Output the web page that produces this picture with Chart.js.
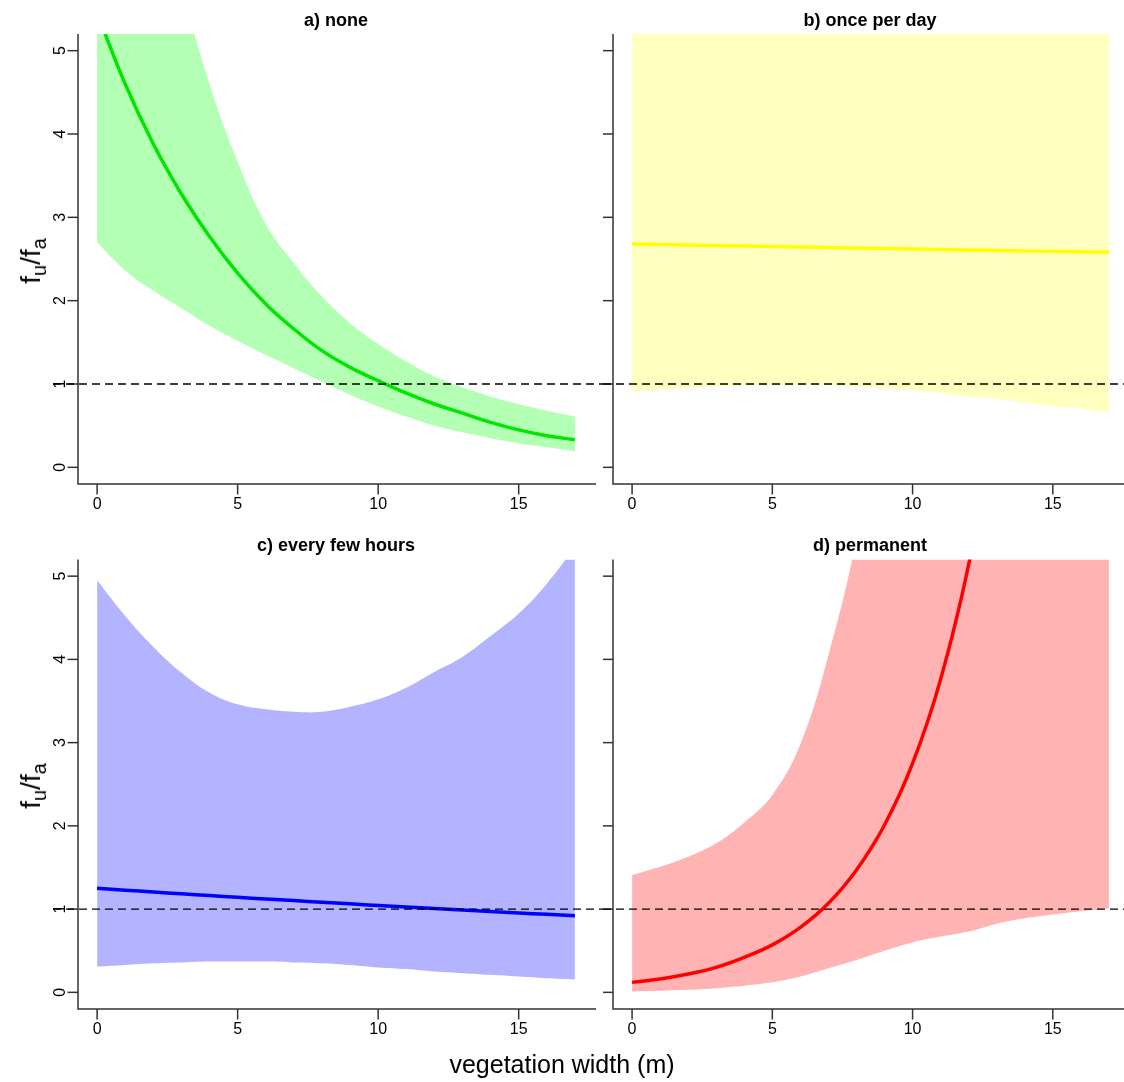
<!DOCTYPE html>
<html>
<head>
<meta charset="utf-8">
<script src="https://cdn.jsdelivr.net/npm/chart.js@4.4.1/dist/chart.umd.min.js"></script>
<style>
html,body{margin:0;padding:0;background:#fff;overflow:hidden;width:1124px;height:1082px;}
#fig{position:relative;width:1124px;height:1082px;overflow:hidden;font-family:"Liberation Sans",Arial,sans-serif;color:#000;}
canvas{position:absolute;}
.title{position:absolute;font-weight:bold;font-size:18px;line-height:1;transform:translate(-50%,-50%);white-space:nowrap;}
.ylab{position:absolute;font-size:28px;line-height:1;transform:translate(-50%,-50%) rotate(-90deg);white-space:nowrap;}
.ylab sub{font-size:20px;vertical-align:-6px;line-height:0;}
.xlab{position:absolute;font-size:25px;line-height:1;transform:translate(-50%,-50%);white-space:nowrap;}
</style>
</head>
<body>
<div id="fig">
  <canvas id="c0" width="603" height="530" style="left:0;top:0"></canvas>
  <canvas id="c1" width="530" height="530" style="left:603px;top:0"></canvas>
  <canvas id="c2" width="603" height="552" style="left:0;top:530px"></canvas>
  <canvas id="c3" width="530" height="552" style="left:603px;top:530px"></canvas>
  <div class="title" style="left:336px;top:19.5px">a) none</div>
  <div class="title" style="left:870px;top:19.5px">b) once per day</div>
  <div class="title" style="left:336px;top:545px">c) every few hours</div>
  <div class="title" style="left:870px;top:545px">d) permanent</div>
  <div class="ylab" style="left:31px;top:261px">f<sub>u</sub>/f<sub>a</sub></div>
  <div class="ylab" style="left:31px;top:786px">f<sub>u</sub>/f<sub>a</sub></div>
  <div class="xlab" style="left:562px;top:1064px">vegetation width (m)</div>
</div>
<script>
// ---- data ----
const widths = [0,1,2,3,4,5,6,7,8,9,10,11,12,13,14,15,16,17];
const xTicks = [0,5,10,15];
const yTicks = [0,1,2,3,4,5];
const refLine = 1;

const noneMean  = [5.45,4.60,3.88,3.28,2.77,2.33,1.96,1.66,1.40,1.20,1.04,0.89,0.76,0.65,0.54,0.45,0.38,0.33];
const noneLower = [2.70,2.36,2.12,1.91,1.70,1.52,1.35,1.19,1.03,0.87,0.73,0.61,0.50,0.42,0.35,0.29,0.24,0.19];
const noneUpper = [11.0,9.0,7.3,5.8,4.6,3.67,2.92,2.45,2.05,1.73,1.48,1.27,1.09,0.96,0.85,0.76,0.68,0.61];

const dailyMean  = [2.680,2.674,2.668,2.662,2.656,2.650,2.645,2.639,2.633,2.627,2.621,2.615,2.609,2.603,2.597,2.592,2.586,2.580];
const dailyLower = [0.91,0.93,0.955,0.97,0.98,0.985,0.985,0.98,0.97,0.95,0.925,0.89,0.85,0.82,0.775,0.735,0.70,0.66];
const dailyUpper = [7.8,7.9,8.0,8.1,8.3,8.4,8.6,8.8,9.0,9.2,9.5,9.8,10.1,10.5,10.9,11.3,11.8,12.3];

const fewMean  = [1.250,1.228,1.206,1.184,1.163,1.142,1.122,1.102,1.082,1.063,1.044,1.025,1.007,0.989,0.971,0.954,0.937,0.920];
const fewLower = [0.31,0.33,0.35,0.36,0.37,0.37,0.37,0.36,0.35,0.33,0.30,0.28,0.25,0.23,0.21,0.19,0.17,0.155];
const fewUpper = [4.95,4.52,4.15,3.84,3.60,3.46,3.40,3.37,3.37,3.43,3.52,3.66,3.85,4.03,4.28,4.55,4.91,5.35];

const permMean  = [0.12,0.16,0.22,0.30,0.42,0.57,0.78,1.07,1.47,2.01,2.75,3.76,5.14,7.0,9.6,13.1,18.0,24.5];
const permLower = [0.01,0.02,0.03,0.05,0.08,0.12,0.19,0.29,0.39,0.50,0.60,0.67,0.73,0.825,0.89,0.935,0.975,1.01];
const permUpper = [1.41,1.51,1.63,1.79,2.04,2.37,2.98,4.05,5.45,7.4,10,13.5,18,24,32,43,58,78];

// ---- drawing ----
const pts = arr => widths.map((w,i)=>({x:w,y:arr[i]}));

const rAxes = {
  id:'rAxes',
  afterDraw(chart, args, o){
    const {ctx, chartArea:a, scales:{x,y}} = chart;
    ctx.save();
    ctx.strokeStyle = '#333';
    ctx.lineWidth = 1.5;
    ctx.beginPath();
    ctx.moveTo(a.left, a.top);
    ctx.lineTo(a.left, a.bottom);
    ctx.lineTo(a.right + 2, a.bottom);
    ctx.stroke();
    ctx.fillStyle = '#000';
    ctx.font = '16px "Liberation Sans", Arial, sans-serif';
    yTicks.forEach(v=>{
      const py = y.getPixelForValue(v);
      ctx.beginPath(); ctx.moveTo(a.left-10.5, py); ctx.lineTo(a.left, py); ctx.stroke();
      ctx.save();
      ctx.translate(a.left-13, py);
      ctx.rotate(-Math.PI/2);
      ctx.textAlign='center'; ctx.textBaseline='alphabetic';
      ctx.fillText(String(v), 0, 0);
      ctx.restore();
    });
    xTicks.forEach(v=>{
      const px = x.getPixelForValue(v);
      ctx.beginPath(); ctx.moveTo(px, a.bottom); ctx.lineTo(px, a.bottom+10.5); ctx.stroke();
      ctx.textAlign='center'; ctx.textBaseline='alphabetic';
      ctx.fillText(String(v), px, a.bottom+25);
    });
    const ry = y.getPixelForValue(refLine);
    ctx.strokeStyle = '#000';
    ctx.lineWidth = 1.3;
    ctx.setLineDash([8,5]);
    ctx.beginPath(); ctx.moveTo(o.dashFrom, ry); ctx.lineTo(o.dashTo, ry); ctx.stroke();
    ctx.restore();
  }
};

function makePanel(id, mean, lower, upper, lineColor, fillColor, pad, dashFrom, dashTo){
  const common = {pointRadius:0, tension:0.4, clip:0};
  return new Chart(document.getElementById(id), {
    type:'line',
    data:{datasets:[
      Object.assign({data:pts(upper), order:1, fill:'+1', backgroundColor:fillColor, borderColor:fillColor, borderWidth:0}, common),
      Object.assign({data:pts(lower), order:2, fill:false, backgroundColor:fillColor, borderColor:fillColor, borderWidth:0}, common),
      Object.assign({data:pts(mean), order:0, fill:false, borderColor:lineColor, borderWidth:3.5}, common)
    ]},
    options:{
      responsive:false, animation:false, events:[], devicePixelRatio:1,
      layout:{padding:pad},
      plugins:{legend:{display:false}, tooltip:{enabled:false}, rAxes:{dashFrom, dashTo}},
      scales:{
        x:{type:'linear', min:-0.68, max:17.68, display:false},
        y:{type:'linear', min:-0.2, max:5.2, display:false}
      }
    },
    plugins:[rAxes]
  });
}

makePanel('c0', noneMean, noneLower, noneUpper, '#00e600', '#b3ffb3', {left:78,top:34,right:9,bottom:46}, 53, 603);
makePanel('c1', dailyMean, dailyLower, dailyUpper, '#ffff00', '#ffffc0', {left:10,top:34,right:5,bottom:46}, 0, 530);
makePanel('c2', fewMean, fewLower, fewUpper, '#0000ff', '#b3b3ff', {left:78,top:29.5,right:9,bottom:73}, 53, 603);
makePanel('c3', permMean, permLower, permUpper, '#ff0000', '#ffb3b3', {left:10,top:29.5,right:5,bottom:73}, 0, 530);
</script>
</body>
</html>
